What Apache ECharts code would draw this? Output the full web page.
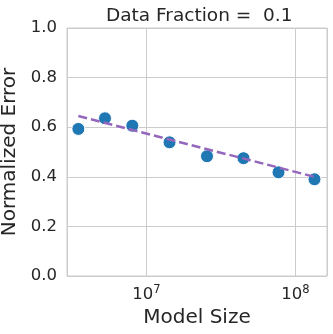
<!DOCTYPE html>
<html>
<head>
<meta charset="utf-8">
<script src="https://cdn.jsdelivr.net/npm/echarts@6/dist/echarts.min.js"></script>
<style>
  html, body { margin: 0; padding: 0; background: #fff; }
  #chart { width: 333px; height: 334px; }
</style>
</head>
<body>
<div id="chart"></div>
<script>
// model sizes and normalized error
const modelSizes = [3.5e6, 5.28e6, 8.05e6, 1.43e7, 2.55e7, 4.48e7, 7.69e7, 1.34e8]
const errors = [0.593, 0.636, 0.606, 0.539, 0.483, 0.475, 0.418, 0.390]
// dashed fit line, end points
const fitSizes = [3.5e6, 1.34e8]
const fitErrors = [0.645, 0.400]
const yTicks = [0, 0.2, 0.4, 0.6, 0.8, 1.0]

const chart = echarts.init(document.getElementById('chart'), null, { renderer: 'canvas' })
const textColor = '#262626'
const font = 'DejaVu Sans'

const option = {
  animation: false,
  backgroundColor: '#fff',
  title: {
    text: 'Data Fraction =  0.1',
    left: 101,
    top: 2,
    textStyle: { fontFamily: font, fontSize: 18.5, fontWeight: 'normal', color: textColor }
  },
  grid: {
    left: 67, right: 6, top: 28, bottom: 58,
    containLabel: false,
    outerBoundsMode: 'none',
    show: true, borderColor: '#cccccc', borderWidth: 1
  },
  xAxis: {
    type: 'log',
    logBase: 10,
    min: Math.pow(10, 6.468),
    max: Math.pow(10, 8.211),
    name: 'Model Size',
    nameLocation: 'middle',
    nameGap: 32,
    nameTextStyle: { fontFamily: font, fontSize: 20, color: textColor },
    axisLine: { show: false },
    axisTick: { show: false },
    minorTick: { show: false },
    splitLine: { show: true, lineStyle: { color: '#cccccc', width: 1 } },
    axisLabel: {
      margin: 8,
      showMinLabel: false,
      showMaxLabel: false,
      formatter: function (v) {
        const e = Math.log10(v)
        if (Math.abs(e - Math.round(e)) > 1e-6) return ''
        return '{b|10}{s|' + Math.round(e) + '}'
      },
      rich: {
        b: { fontFamily: font, fontSize: 16.5, color: textColor },
        s: { fontFamily: font, fontSize: 11.5, color: textColor, padding: [0, 0, 9, 0] }
      }
    }
  },
  yAxis: {
    type: 'value',
    min: 0,
    max: 1,
    interval: 0.2,
    name: 'Normalized Error',
    nameLocation: 'middle',
    nameGap: 40,
    nameTextStyle: { fontFamily: font, fontSize: 20, color: textColor },
    axisLine: { show: false },
    axisTick: { show: false },
    splitLine: { show: true, lineStyle: { color: '#cccccc', width: 1 } },
    axisLabel: {
      margin: 10,
      fontFamily: font,
      fontSize: 16.5,
      color: textColor,
      formatter: v => yTicks.indexOf(+v.toFixed(1)) >= 0 ? v.toFixed(1) : ''
    }
  },
  series: [
    {
      type: 'scatter',
      data: modelSizes.map((s, i) => [s, errors[i]]),
      symbolSize: 13,
      itemStyle: { color: '#1f77b4', borderColor: '#ffffff', borderWidth: 1, opacity: 1 },
      z: 2
    },
    {
      type: 'line',
      data: fitSizes.map((s, i) => [s, fitErrors[i]]),
      showSymbol: false,
      symbol: 'none',
      lineStyle: { color: '#9467bd', width: 2.5, type: [9, 4] },
      z: 3
    }
  ]
}
chart.setOption(option)
</script>
</body>
</html>
